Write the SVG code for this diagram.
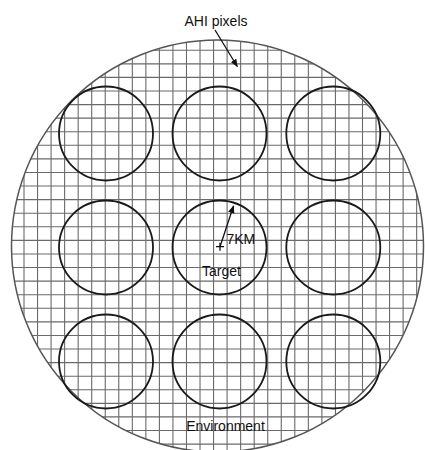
<svg xmlns="http://www.w3.org/2000/svg" width="425" height="450" viewBox="0 0 425 450">
<style>
.grid{fill:none;stroke:#6a6a6a;stroke-width:1.1}
.outer{fill:none;stroke:#555;stroke-width:1.5}
.cell{fill:none;stroke:#1a1a1a;stroke-width:1.8}
.lbl{font-family:"Liberation Sans",Arial,sans-serif;font-size:14px;fill:#111}
.arr{fill:none;stroke:#111;stroke-width:1.3}
</style>
<defs>
<clipPath id="clip"><circle cx="217.5" cy="246" r="206"/></clipPath>
<marker id="ah" viewBox="0 0 10 10" refX="9" refY="5" markerWidth="8" markerHeight="8" markerUnits="userSpaceOnUse" orient="auto"><path d="M0,1 L10,5 L0,9 Z" fill="#111"/></marker>
</defs>
<g id="grid" clip-path="url(#clip)">
<rect x="0" y="0" width="425" height="450" fill="#fff"/>
<path class="grid" d="M10.46,30V460M24,30V460M37.54,30V460M51.08,30V460M64.62,30V460M78.16,30V460M91.7,30V460M105.24,30V460M118.78,30V460M132.32,30V460M145.86,30V460M159.4,30V460M172.94,30V460M186.48,30V460M200.02,30V460M213.56,30V460M227.1,30V460M240.64,30V460M254.18,30V460M267.72,30V460M281.26,30V460M294.8,30V460M308.34,30V460M321.88,30V460M335.42,30V460M348.96,30V460M362.5,30V460M376.04,30V460M389.58,30V460M403.12,30V460M416.66,30V460
M0,50.26H425M0,63.84H425M0,77.42H425M0,91H425M0,104.58H425M0,118.16H425M0,131.74H425M0,145.32H425M0,158.9H425M0,172.48H425M0,186.06H425M0,199.64H425M0,213.22H425M0,226.8H425M0,240.38H425M0,253.96H425M0,267.54H425M0,281.12H425M0,294.7H425M0,308.28H425M0,321.86H425M0,335.44H425M0,349.02H425M0,362.6H425M0,376.18H425M0,389.76H425M0,403.34H425M0,416.92H425M0,430.5H425M0,444.08H425"/>
</g>
<g id="environment">
<circle class="outer" cx="217.5" cy="246" r="206"/>
<text class="lbl" x="225.5" y="431" text-anchor="middle">Environment</text>
</g>
<g id="cell-1-1"><circle class="cell" cx="106" cy="133.5" r="47"/></g>
<g id="cell-1-2"><circle class="cell" cx="219.5" cy="133.5" r="47"/></g>
<g id="cell-1-3"><circle class="cell" cx="333.3" cy="133.5" r="47"/></g>
<g id="cell-2-1"><circle class="cell" cx="106" cy="247.5" r="47"/></g>
<g id="target">
<circle class="cell" cx="219.5" cy="247.5" r="47"/>
<path class="arr" d="M216,246.7H224M220,242.7V250.7"/>
<text class="lbl" x="226.5" y="244">7KM</text>
<text class="lbl" x="221.5" y="276" text-anchor="middle">Target</text>
</g>
<g id="cell-2-3"><circle class="cell" cx="333.3" cy="247.5" r="47"/></g>
<g id="cell-3-1"><circle class="cell" cx="106" cy="361.5" r="47"/></g>
<g id="cell-3-2"><circle class="cell" cx="219.5" cy="361.5" r="47"/></g>
<g id="cell-3-3"><circle class="cell" cx="333.3" cy="361.5" r="47"/></g>
<g id="pixels-label">
<text class="lbl" x="216" y="26" text-anchor="middle">AHI pixels</text>
</g>
<g id="connectors">
<line class="arr" x1="215" y1="30" x2="237.3" y2="66.5" marker-end="url(#ah)"/>
<line class="arr" x1="220" y1="246.7" x2="233.5" y2="206" marker-end="url(#ah)"/>
</g>
</svg>
